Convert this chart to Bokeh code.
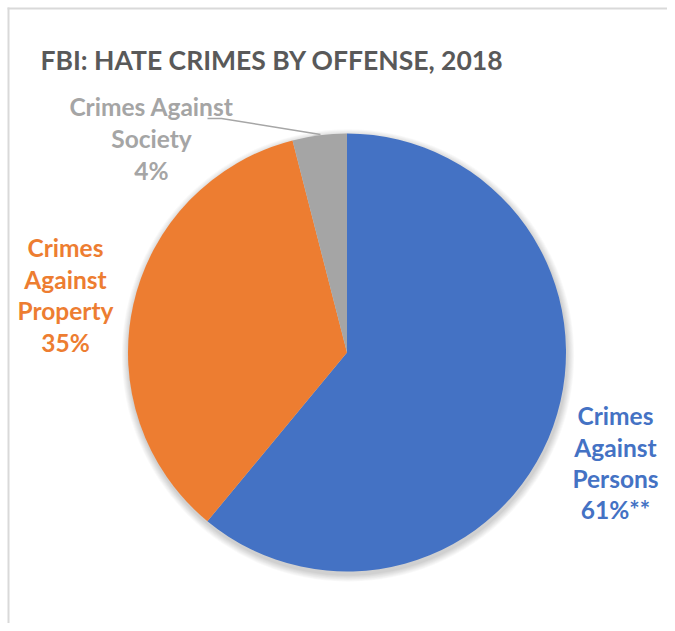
import numpy as np
from bokeh.plotting import figure
from bokeh.models import Range1d
from bokeh.core.properties import value
from bokeh.embed import file_html
from bokeh.resources import INLINE

# ---- data ----
categories = ["Crimes Against Persons", "Crimes Against Property", "Crimes Against Society"]
shares = [61, 35, 4]
slice_colors = ["#4472C4", "#ED7D31", "#A5A5A5"]
label_lines = [["Crimes", "Against", "Persons", "61%**"],
               ["Crimes", "Against", "Property", "35%"],
               ["Crimes Against", "Society", "4%"]]
title_text = "FBI: HATE CRIMES BY OFFENSE, 2018"

W, H = 667, 623
FONT = "Lato"

def Y(img_y):
    return H - img_y

p = figure(width=W, height=H, output_backend="svg", toolbar_location=None,
           x_range=Range1d(0, W), y_range=Range1d(0, H), min_border=0)
p.axis.visible = False
p.grid.visible = False
p.outline_line_color = None
p.background_fill_color = "white"
p.border_fill_color = "white"

# frame lines (top/left of the chart box)
p.line([8, 8], [0, Y(7)], line_color="#d9d9d9", line_width=2)
p.line([7, W], [Y(8), Y(8)], line_color="#d9d9d9", line_width=2)

cx, cy, r = 346.5, Y(352), 219

# soft shadow
for k in range(1, 9):
    p.circle(x=cx + 1, y=cy - 3, radius=r + k * 0.9, fill_color="black",
             fill_alpha=0.022, line_color=None)

# wedges clockwise from 12 o'clock
vals = np.array(shares, dtype=float)
frac = vals / vals.sum()
ends = np.pi / 2 - 2 * np.pi * np.concatenate([[0], np.cumsum(frac)[:-1]])
starts = ends - 2 * np.pi * frac
p.wedge(x=cx, y=cy, radius=r, start_angle=list(starts), end_angle=list(ends),
        fill_color=slice_colors, line_color=None)

# title
p.text(x=[40], y=[Y(59)], text=[title_text], text_font=value(FONT),
       text_font_style="bold", text_font_size="26.5px", text_color="#595959",
       text_align="left", text_baseline="alphabetic")

# labels
label_pos = [(615, [415, 446.5, 478, 509]),
             (65, [247, 278.5, 310, 341.5]),
             (151, [106, 137.5, 170])]
for lines, (lx, ys), col in zip(label_lines, label_pos, slice_colors):
    p.text(x=[lx] * len(lines), y=[Y(v) for v in ys], text=lines,
           text_font=value(FONT), text_font_style="bold", text_font_size="24.5px",
           text_color=col, text_align="center", text_baseline="alphabetic")

# leader line for small slice
p.line([207, 221, 320], [Y(118), Y(118), Y(134)], line_color="#A6A6A6", line_width=1.5)

open("out.html", "w").write(file_html(p, INLINE))
